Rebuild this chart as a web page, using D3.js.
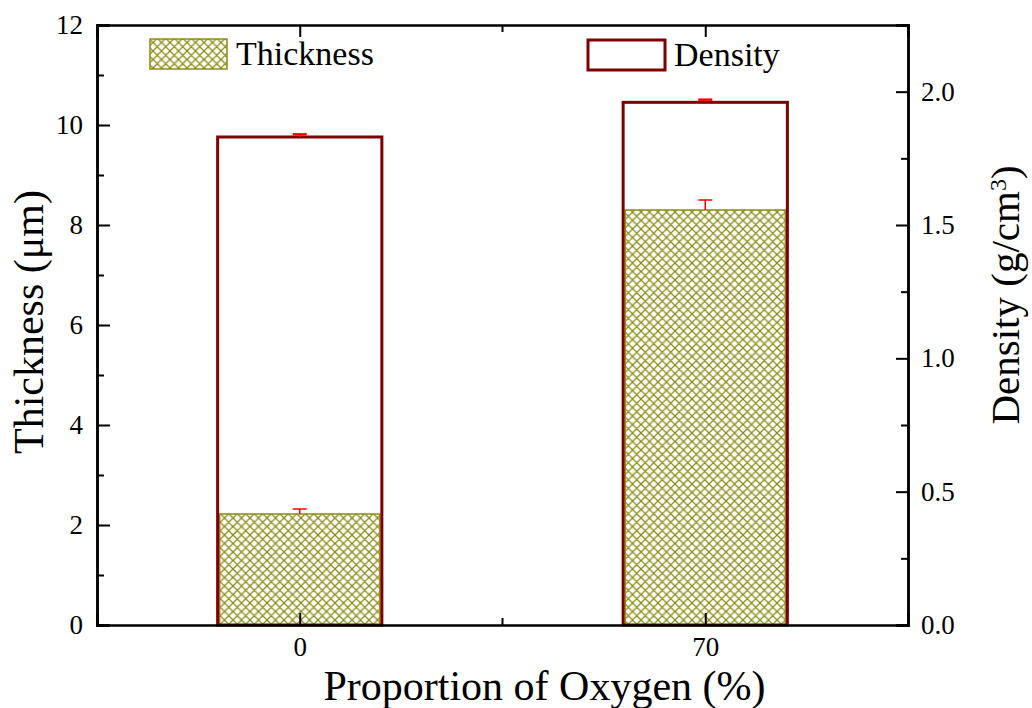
<!DOCTYPE html>
<html>
<head>
<meta charset="utf-8">
<script src="https://cdn.jsdelivr.net/npm/d3@7"></script>
<style>
  body { margin: 0; background: #fff; }
  text { font-family: "Palatino Linotype", "Book Antiqua", Palatino, "Liberation Serif", serif; fill: #000; }
</style>
</head>
<body>
<div id="chart"></div>
<script>
var categories = ["0", "70"];
var thickness = [2.22, 8.3];
var thickness_err = [0.1, 0.2];
var density = [1.83, 1.96];
var density_err = [0.01, 0.01];
var left_ticks = [0, 2, 4, 6, 8, 10, 12];
var right_ticks = [0, 0.5, 1.0, 1.5, 2.0];

var width = 1032, height = 708;
var margin = {left: 97, right: 124, top: 25, bottom: 83};
var plot_w = width - margin.left - margin.right;
var plot_h = height - margin.top - margin.bottom;

var olive = "#8c8c14";
var darkred = "#800000";
var serif = "'Palatino Linotype', 'Book Antiqua', Palatino, 'Liberation Serif', serif";

var svg = d3.select("#chart")
    .append("svg")
    .attr("width", width)
    .attr("height", height);

// hatch pattern
var p = 8.5;
var defs = svg.append("defs");
var pat = defs.append("pattern")
    .attr("id", "hatch")
    .attr("patternUnits", "userSpaceOnUse")
    .attr("width", p)
    .attr("height", p);
pat.append("rect").attr("width", p).attr("height", p).attr("fill", "#fff");
pat.append("path")
    .attr("d", "M0,0 L" + p + "," + p + " M" + p + ",0 L0," + p +
        " M-1," + (p - 1) + " L1," + (p + 1) + " M" + (p - 1) + ",-1 L" + (p + 1) + ",1" +
        " M-1,1 L1,-1 M" + (p - 1) + "," + (p + 1) + " L" + (p + 1) + "," + (p - 1))
    .attr("stroke", olive)
    .attr("stroke-width", 1.3);

var g = svg.append("g")
    .attr("transform", "translate(" + margin.left + "," + margin.top + ")");

// scales
var x_scale = d3.scalePoint()
    .domain(categories)
    .range([0, plot_w])
    .padding(0.5);

var y_left = d3.scaleLinear()
    .domain([0, 12])
    .range([plot_h, 0]);

var y_right = d3.scaleLinear()
    .domain([0, 2.25])
    .range([plot_h, 0]);

var bar_w = x_scale.step() * 0.405;

// thickness bars
g.selectAll(".thick")
    .data(thickness)
    .enter()
    .append("rect")
    .attr("class", "thick")
    .attr("x", function(d, i) { return x_scale(categories[i]) - bar_w / 2 + 2; })
    .attr("width", bar_w - 4)
    .attr("y", function(d) { return y_left(d); })
    .attr("height", function(d) { return plot_h - y_left(d); })
    .attr("fill", "url(#hatch)")
    .attr("stroke", olive)
    .attr("stroke-width", 1.5);

// density bars (outline)
g.selectAll(".dens")
    .data(density)
    .enter()
    .append("rect")
    .attr("class", "dens")
    .attr("x", function(d, i) { return x_scale(categories[i]) - bar_w / 2; })
    .attr("width", bar_w)
    .attr("y", function(d) { return y_right(d); })
    .attr("height", function(d) { return plot_h - y_right(d); })
    .attr("fill", "none")
    .attr("stroke", darkred)
    .attr("stroke-width", 3);

// error bars
function errorBars(vals, errs, scale, cap, sw) {
    var eg = g.append("g");
    vals.forEach(function(v, i) {
        var cx = x_scale(categories[i]);
        eg.append("line")
            .attr("x1", cx).attr("x2", cx)
            .attr("y1", scale(v)).attr("y2", scale(v + errs[i]))
            .attr("stroke", "#ff0000").attr("stroke-width", 1.5);
        eg.append("line")
            .attr("x1", cx - cap / 2).attr("x2", cx + cap / 2)
            .attr("y1", scale(v + errs[i])).attr("y2", scale(v + errs[i]))
            .attr("stroke", "#ff0000").attr("stroke-width", sw);
    });
}
errorBars(thickness, thickness_err, y_left, 14, 1.5);
errorBars(density, density_err, y_right, 14, 2.5);

// axes
var left_axis = d3.axisLeft(y_left)
    .tickValues(left_ticks)
    .tickSize(-13)
    .tickPadding(14)
    .tickFormat(d3.format("d"));

var left_minor = d3.axisLeft(y_left)
    .tickValues(d3.range(1, 12, 2))
    .tickSize(-7)
    .tickFormat("");

var right_axis = d3.axisRight(y_right)
    .tickValues(right_ticks)
    .tickSize(-12)
    .tickPadding(13)
    .tickFormat(d3.format(".1f"));

var right_minor = d3.axisRight(y_right)
    .tickValues([0.25, 0.75, 1.25, 1.75, 2.25])
    .tickSize(-7)
    .tickFormat("");

var bottom_axis = d3.axisBottom(x_scale)
    .tickSize(-12)
    .tickPadding(12);

var mid = [(x_scale(categories[0]) + x_scale(categories[1])) / 2];

g.append("g").attr("class", "axis").call(left_axis);
g.append("g").attr("class", "axis").call(left_minor);
g.append("g").attr("class", "axis")
    .attr("transform", "translate(" + plot_w + ",0)").call(right_axis);
g.append("g").attr("class", "axis")
    .attr("transform", "translate(" + plot_w + ",0)").call(right_minor);
g.append("g").attr("class", "axis")
    .attr("transform", "translate(0," + plot_h + ")").call(bottom_axis);
g.append("g").attr("class", "axis")
    .call(d3.axisTop(x_scale).tickSize(-12).tickFormat(""));

// minor ticks between categories
g.selectAll(".midtick")
    .data(mid)
    .enter()
    .append("line")
    .attr("x1", function(d) { return d; }).attr("x2", function(d) { return d; })
    .attr("y1", plot_h).attr("y2", plot_h - 7)
    .attr("stroke", "#000").attr("stroke-width", 2);
g.selectAll(".midtick2")
    .data(mid)
    .enter()
    .append("line")
    .attr("x1", function(d) { return d; }).attr("x2", function(d) { return d; })
    .attr("y1", 0).attr("y2", 7)
    .attr("stroke", "#000").attr("stroke-width", 2);

svg.selectAll(".axis path").attr("stroke", "#000").attr("stroke-width", 2.5);
svg.selectAll(".axis line").attr("stroke", "#000").attr("stroke-width", 2);
svg.selectAll(".axis text").attr("font-size", 27).attr("fill", "#000")
    .style("font-family", serif);

// axis titles
svg.append("text")
    .attr("x", margin.left + plot_w / 2 + 42)
    .attr("y", 700)
    .attr("text-anchor", "middle")
    .attr("font-size", 42)
    .text("Proportion of Oxygen (%)");

svg.append("text")
    .attr("transform", "translate(43,322) rotate(-90)")
    .attr("text-anchor", "middle")
    .attr("font-size", 42)
    .text("Thickness (\u03bcm)");

var rt = svg.append("text")
    .attr("transform", "translate(1019,295) rotate(-90)")
    .attr("text-anchor", "middle")
    .attr("font-size", 41);
rt.append("tspan").text("Density (g/cm");
rt.append("tspan").attr("baseline-shift", "super").attr("font-size", 24).text("3");
rt.append("tspan").text(")");

// legend
var legend = svg.append("g");
legend.append("rect")
    .attr("x", 150).attr("y", 39).attr("width", 77).attr("height", 30)
    .attr("fill", "url(#hatch)").attr("stroke", olive).attr("stroke-width", 1.5);
legend.append("text")
    .attr("x", 236).attr("y", 65).attr("font-size", 34).text("Thickness");
legend.append("rect")
    .attr("x", 588).attr("y", 40).attr("width", 77).attr("height", 30)
    .attr("fill", "none").attr("stroke", darkred).attr("stroke-width", 3);
legend.append("text")
    .attr("x", 674).attr("y", 66).attr("font-size", 34).text("Density");
</script>
</body>
</html>
